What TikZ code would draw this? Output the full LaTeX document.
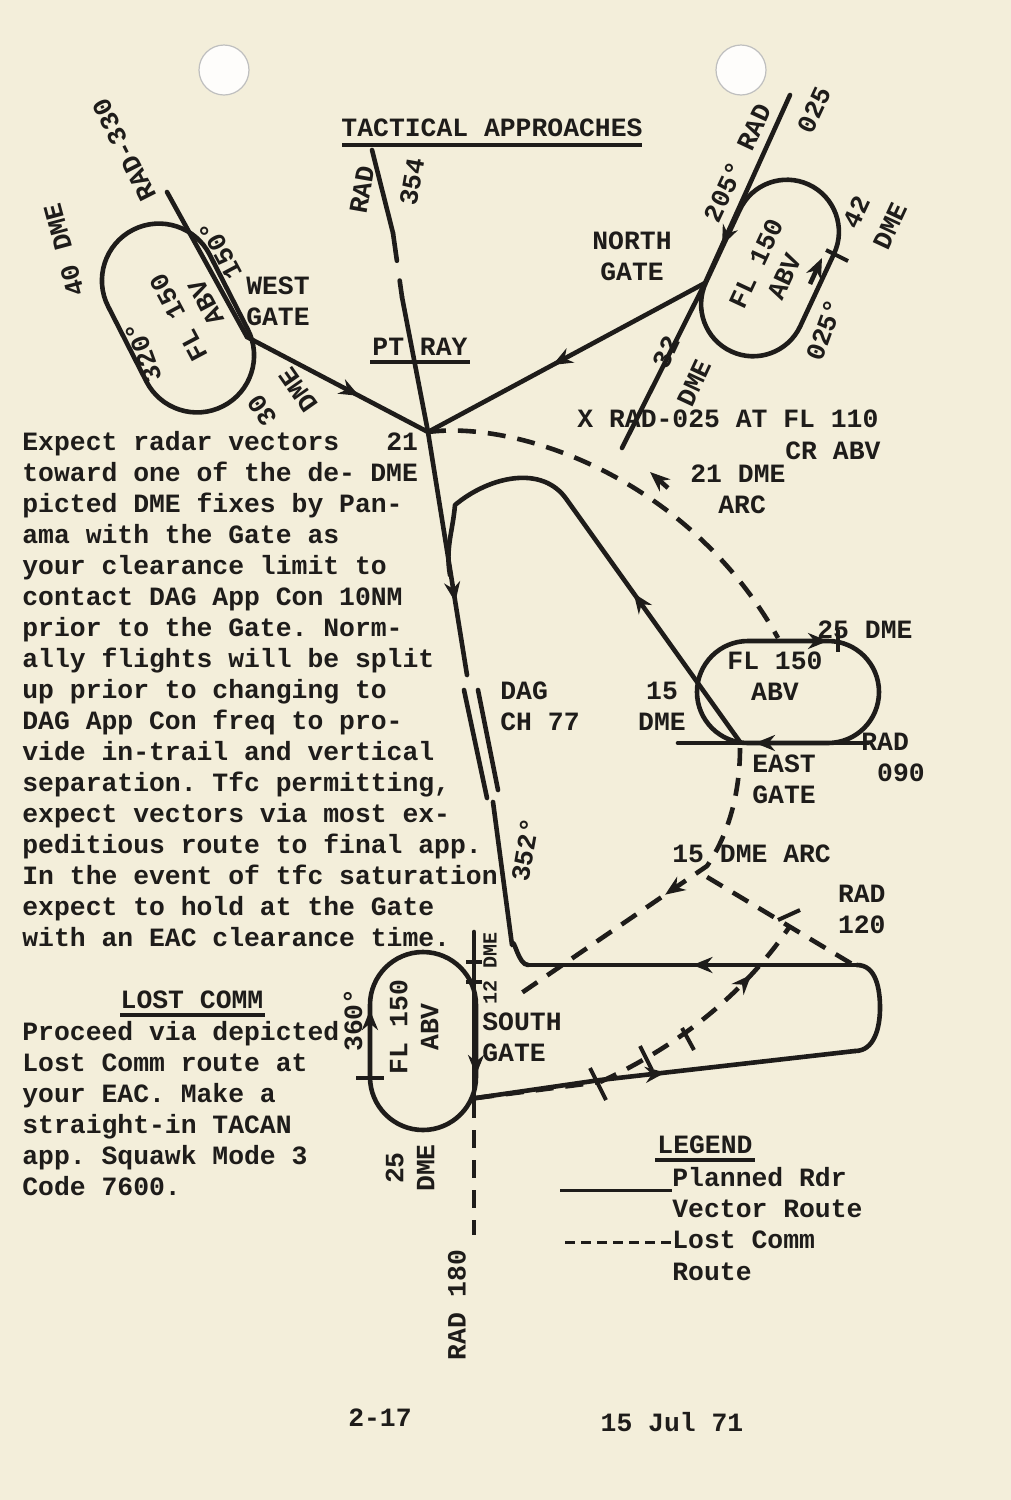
\documentclass[tikz,border=0pt]{standalone}
\usepackage{fontspec}
\setmonofont{Liberation Mono}
\usetikzlibrary{arrows.meta,decorations.markings}
\definecolor{paper}{HTML}{F3EEDA}
\definecolor{ink}{HTML}{1E1C1A}
\newcommand\stad[5]{\draw[rte,shift={(#1,#2)},rotate=#3] (-#4,-#5) -- (#4,-#5) arc(-90:90:#5) -- (-#4,#5) arc(90:270:#5) -- cycle;}
\begin{document}
\begin{tikzpicture}[x=0.5pt,y=-0.5pt,
  rte/.style={draw=ink,line width=2.3pt,line join=round,line cap=round},
  lc/.style={rte,dash pattern=on 9pt off 6pt,line cap=butt},
  marr/.style={postaction={decorate},decoration={markings,mark=at position #1 with {\arrow[ink]{Stealth[length=10pt,width=8pt]}}}},
  ah/.style={ink,-{Stealth[length=10pt,width=8pt]},line width=2.3pt},
  tx/.style={font=\ttfamily\bfseries\fontsize{13.2}{15.5}\selectfont,text=ink,inner sep=0pt},
  sm/.style={font=\ttfamily\bfseries\fontsize{10}{11}\selectfont,text=ink,inner sep=0pt},
  tl/.style={tx,anchor=base west},
  tk/.style={draw=ink,line width=2pt}]
\useasboundingbox (0,0) rectangle (1011,1500);
\fill[paper] (0,0) rectangle (1011,1500);
\fill[white!90!paper,draw=gray!50,line width=0.6pt] (224,70) circle (25) (741,70) circle (25);

% title
\node[tx] (title) at (492,128) {TACTICAL APPROACHES};
\draw[ink,line width=1.6pt] (342,145) -- (642,145);

% points
\coordinate (ray) at (428,432);
\coordinate (wg) at (247,337);
\coordinate (ng) at (705,283);
\coordinate (eg) at (740,742);
\coordinate (sg) at (476,1098);

% west
\stad{178}{318}{-63}{42}{57}
\draw[rte] (167,192) -- (wg);
\draw[rte,marr=0.62] (wg) -- (ray);
\node[tx,rotate=117] (r330) at (124,150) {RAD-330};
\node[tx,rotate=118] (w15) at (220,250) {150\textdegree};
\node[tx,rotate=110] (w320) at (143,352) {320\textdegree};
\node[tx,rotate=105] (w40) at (64,250) {40 DME};
\node[tx,rotate=118,align=center] (wfl) at (192,310) {FL 150\\ABV};
\node[tx,align=left] (wgt) at (278,301) {WEST\\GATE};
\node[tx,rotate=125] (w30a) at (262,410) {30};
\node[tx,rotate=125] (w30b) at (298,390) {DME};

% RAD 354 / main line
\draw[rte] (372,150) -- (393,233);
\draw[rte,dash pattern=on 14pt off 10pt] (393,233) -- (402,297);
\draw[rte] (402,297) -- (ray);
\node[tx,rotate=80] (r354a) at (362,190) {RAD};
\node[tx,rotate=80] (r354b) at (412,182) {354};
\node[tx] (ptray) at (420,347) {PT RAY};
\draw[ink,line width=1.6pt] (370,362) -- (470,362);
\draw[rte,marr=0.7] (ray) -- (467,675);
\draw[rte] (464,690) -- (487,798);
\draw[rte] (478,690) -- (498,790);
\draw[rte] (493,802) -- (512,945) to[out=80,in=180] (528,965);
\node[tx,rotate=80] (d352) at (525,850) {352\textdegree};
\node[tx,align=left] (dag) at (540,706) {DAG\\CH 77};

% north
\stad{770}{268}{65}{40}{52}
\draw[rte,marr=0.55] (ng) -- (ray);
\draw[rte,marr=0.8] (790,95) -- (ng);
\draw[rte] (ng) -- (622,448);
\draw[ah] (810,284) -- (822,258);
\draw[tk] (826,250) -- (848,261);
\node[tx,rotate=65] (n205) at (737,163) {205\textdegree{} RAD};
\node[tx,rotate=65] (n025) at (814,110) {025};
\node[tx,rotate=65] (n42a) at (856,212) {42};
\node[tx,rotate=65] (n42b) at (890,226) {DME};
\node[tx,rotate=65,align=center] (nfl) at (770,270) {FL 150\\ABV};
\node[tx,rotate=70] (n025b) at (824,330) {025\textdegree};
\node[tx,rotate=65] (n32a) at (666,352) {32};
\node[tx,rotate=65] (n32b) at (694,383) {DME};
\node[tx,align=center] (ngt) at (632,256) {NORTH\\GATE};
\node[tl] (xrad) at (577,427) {X RAD-025 AT FL 110};
\node[tl] (crabv) at (785,459) {CR ABV};
\node[tl] (a21) at (690,482) {21 DME};
\node[tl] (arc21) at (718,513) {ARC};
\draw[lc] (ray) .. controls (520,420) and (690,480) .. (778,638);
\draw[ah] (668,488) -- (650,472);

% east
\stad{788}{692}{0}{40}{51}
\draw[rte] (678,743) -- (868,743);
\draw[ah] (780,743) -- (755,743);
\draw[ah] (800,641) -- (828,641);
\draw[tk] (838,630) -- (838,652);
\draw[rte,marr=0.37] (eg) -- (567,500) to[out=124,in=40] (455,505) to[out=-95,in=100] (450,575);
\node[tl] (e25) at (817,638) {25 DME};
\node[tx,align=center] (efl) at (775,676) {FL 150\\ABV};
\node[tx,align=center] (e15) at (662,706) {15\\DME};
\node[tx,align=left] (erad) at (893,757) {RAD\\\ 090};
\node[tx,align=left] (egt) at (784,779) {EAST\\GATE};

% 15 DME arc
\draw[lc,marr=0.5] (740,748) .. controls (740,800) and (725,840) .. (707,866) -- (520,994);
\node[tl] (a15) at (672,862) {15 DME ARC};
\node[tx,align=right] (r120) at (838,909) {RAD\\\ \ \ 120};
\draw[lc] (707,877) -- (857,967);

% south route
\draw[rte,marr=0.5] (857,965) -- (528,965);
\draw[rte,marr=0.5] (sg) -- (600,1080) -- (855,1051);
\draw[rte] (857,965) to[out=0,in=90] (880,1008) to[out=-90,in=0] (855,1051);
\draw[lc] (sg) -- (600,1082);
\draw[lc,marr=0.75] (600,1082) .. controls (670,1050) and (740,1000) .. (790,926);
\draw[tk] (590,1068) -- (606,1100);
\draw[tk] (640,1046) -- (652,1070);
\draw[tk] (682,1028) -- (694,1050);
\draw[tk] (778,920) -- (800,910);

% south oval
\stad{423}{1041}{90}{36}{53}
\draw[rte] (474,932) -- (474,1100);
\draw[lc] (474,1100) -- (474,1235);
\draw[ah] (370,1030) -- (370,1010);
\draw[ah] (476,1050) -- (476,1075);
\draw[tk] (356,1078) -- (384,1078);
\draw[tk] (466,962) -- (482,962);
\draw[tk] (466,982) -- (482,982);
\node[sm,rotate=90] (s12) at (490,968) {12 DME};
\node[tx,align=left] (sgt) at (522,1037) {SOUTH\\GATE};
\node[tx,rotate=90,align=center] (sfl) at (414,1027) {FL 150\\ABV};
\node[tx,rotate=90] (s360) at (353,1020) {360\textdegree};
\node[tx,rotate=90,align=center] (s25) at (410,1168) {25\\DME};
\node[tx,rotate=90] (r180) at (457,1305) {RAD 180};

% paragraph
\node[tl] (p1) at (22,450) {Expect radar vectors};
\node[tl] (p1b) at (386,450) {21};
\node[tl] (p2) at (22,481) {toward one of the de-};
\node[tl] (p2b) at (370,481) {DME};
\node[tl] (p3) at (22,512) {picted DME fixes by Pan-};
\node[tl] (p4) at (22,543) {ama with the Gate as};
\node[tl] (p5) at (22,574) {your clearance limit to};
\node[tl] (p6) at (22,605) {contact DAG App Con 10NM};
\node[tl] (p7) at (22,636) {prior to the Gate.  Norm-};
\node[tl] (p8) at (22,667) {ally flights will be split};
\node[tl] (p9) at (22,698) {up prior to changing to};
\node[tl] (p10) at (22,729) {DAG App Con freq to pro-};
\node[tl] (p11) at (22,760) {vide in-trail and vertical};
\node[tl] (p12) at (22,791) {separation.  Tfc permitting,};
\node[tl] (p13) at (22,822) {expect vectors via most ex-};
\node[tl] (p14) at (22,853) {peditious route to final app.};
\node[tl] (p15) at (22,884) {In the event of tfc saturation};
\node[tl] (p16) at (22,915) {expect to hold at the Gate};
\node[tl] (p17) at (22,946) {with an EAC clearance time.};

% lost comm
\node[tx] (lch) at (192,1000) {LOST COMM};
\draw[ink,line width=1.6pt] (120,1015) -- (265,1015);
\node[tl] (l1) at (22,1040) {Proceed via depicted};
\node[tl] (l2) at (22,1071) {Lost Comm route at};
\node[tl] (l3) at (22,1102) {your EAC.  Make a};
\node[tl] (l4) at (22,1133) {straight-in TACAN};
\node[tl] (l5) at (22,1164) {app. Squawk Mode 3};
\node[tl] (l6) at (22,1195) {Code 7600.};

% legend
\node[tx] (leg) at (705,1145) {LEGEND};
\draw[ink,line width=1.6pt] (655,1160) -- (755,1160);
\coordinate (la) at (560,1190); \coordinate (lb) at (672,1190);
\draw[ink,line width=1.5pt] (la) -- (lb);
\node[tl] (lg1) at (672,1186) {Planned Rdr};
\node[tl] (lg2) at (672,1217) {Vector Route};
\coordinate (lc1) at (565,1242); \coordinate (lc2) at (672,1242);
\draw[ink,line width=1.5pt,dash pattern=on 5pt off 3pt] (lc1) -- (lc2);
\node[tl] (lg3) at (672,1248) {Lost Comm};
\node[tl] (lg4) at (672,1280) {Route};

% footer
\node[tx] (pg) at (380,1418) {2-17};
\node[tx] (dt) at (672,1422) {15 Jul 71};
\end{tikzpicture}
\end{document}
